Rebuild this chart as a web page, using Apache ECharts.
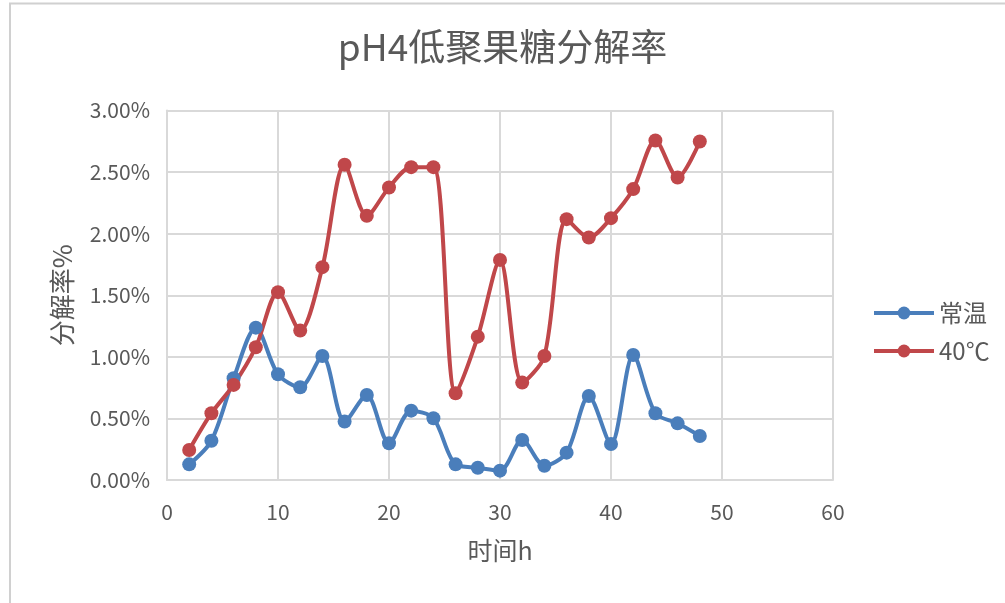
<!DOCTYPE html>
<html>
<head>
<meta charset="utf-8">
<script src="https://cdn.jsdelivr.net/npm/echarts@6/dist/echarts.min.js"></script>
<style>
html,body{margin:0;padding:0;background:#fff;}
#chart{width:1005px;height:603px;}
</style>
</head>
<body>
<div id="chart"></div>
<script>
var hours = [2,4,6,8,10,12,14,16,18,20,22,24,26,28,30,32,34,36,38,40,42,44,46,48];
var roomTemp = [0.127,0.319,0.826,1.237,0.858,0.753,1.007,0.474,0.690,0.298,0.563,0.501,0.127,0.100,0.076,0.325,0.116,0.222,0.682,0.292,1.015,0.542,0.460,0.357];
var temp40 = [0.244,0.542,0.772,1.078,1.525,1.213,1.728,2.559,2.145,2.375,2.540,2.540,0.704,1.164,1.787,0.791,1.007,2.118,1.969,2.126,2.362,2.757,2.456,2.748];
var seriesNames = ['常温', '40℃'];
var titleText = 'pH4低聚果糖分解率';
var xName = '时间h';
var yName = '分解率%';

function pairs(xs, ys){ return xs.map(function(x,i){ return [x, ys[i]]; }); }

var chart = echarts.init(document.getElementById('chart'), null, {renderer:'canvas'});
var txt = '#595959';
var font = '"Noto Sans CJK SC", "Noto Sans", sans-serif';
chart.setOption({
  backgroundColor:'#fff',
  animation:false,
  textStyle:{fontFamily:font},
  title:{text:titleText,left:'center',top:23,textStyle:{fontSize:37,fontWeight:'normal',color:txt,fontFamily:font}},
  graphic:[
    {type:'polyline',shape:{points:[[10,603],[10,3.5],[1005,3.5]]},style:{stroke:'#d0d0d0',lineWidth:2,fill:null}}
  ],
  legend:{orient:'vertical',left:867,top:296,itemWidth:60,itemHeight:16,itemGap:14,
    lineStyle:{width:4},
    textStyle:{fontSize:24,color:txt,fontFamily:font},data:seriesNames},
  grid:{left:167,right:172,top:110.5,bottom:123,containLabel:false},
  xAxis:{type:'value',min:0,max:60,interval:10,name:xName,nameLocation:'middle',nameGap:58,
    nameTextStyle:{fontSize:25,color:txt,fontFamily:font},
    axisLine:{show:true,lineStyle:{color:'#d9d9d9',width:2}},axisTick:{show:false},
    axisLabel:{fontSize:21,color:txt,margin:22,fontFamily:font},
    splitLine:{show:true,lineStyle:{color:'#d9d9d9',width:2}}},
  yAxis:{type:'value',min:0,max:3,interval:0.5,name:yName,nameLocation:'middle',nameGap:92,nameRotate:90,
    nameTextStyle:{fontSize:26,color:txt,fontFamily:font},
    axisLine:{show:true,lineStyle:{color:'#d9d9d9',width:2}},axisTick:{show:false},
    axisLabel:{fontSize:21,color:txt,margin:17,fontFamily:font,formatter:function(v){return v.toFixed(2)+'%';}},
    splitLine:{show:true,lineStyle:{color:'#d9d9d9',width:2}}},
  series:[
    {name:seriesNames[0],type:'line',smooth:0.3,data:pairs(hours,roomTemp),symbol:'circle',symbolSize:14,
      itemStyle:{color:'#4a7ebb'},lineStyle:{width:4,color:'#4a7ebb'}},
    {name:seriesNames[1],type:'line',smooth:0.3,data:pairs(hours,temp40),symbol:'circle',symbolSize:14,
      itemStyle:{color:'#c0474a'},lineStyle:{width:4,color:'#c0474a'}}
  ]
});
</script>
</body>
</html>
